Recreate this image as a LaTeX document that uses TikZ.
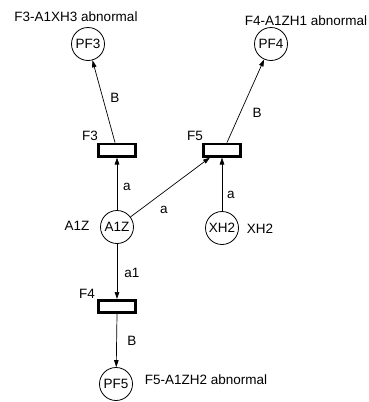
\documentclass[tikz,border=0pt]{standalone}
\usepackage{fontspec}
\setmainfont{Liberation Sans}
\usetikzlibrary{arrows.meta}

\begin{document}
\begin{tikzpicture}[
    x=1pt, y=-1pt,
    every node/.style={font=\fontsize{13.5}{15}\selectfont},
    place/.style={draw, circle, minimum size=33pt, inner sep=0pt, line width=0.8pt},
    trans/.style={draw, fill=white, line width=2.8pt, minimum width=37.2pt, minimum height=12.2pt, inner sep=0pt},
    lbl/.style={inner sep=0pt},
    arc/.style={-{Triangle[length=7pt,width=4.5pt]}, line width=0.7pt}
]
\useasboundingbox (0,0) rectangle (369,402);

\node[place] (PF3) at (88,44) {PF3};
\node[place] (PF4) at (271,44) {PF4};
\node[trans] (F3) at (117,150) {};
\node[trans] (F5) at (222,150) {};
\node[place] (A1Z) at (117,227) {A1Z};
\node[place] (XH2) at (222,228) {XH2};
\node[trans] (F4) at (117,306.5) {};
\node[place] (PF5) at (116,384) {PF5};

\node[lbl] (txtPF3) at (76,17) {F3-A1XH3 abnormal};
\node[lbl] (txtPF4) at (306,21) {F4-A1ZH1 abnormal};
\node[lbl] (txtPF5) at (206,380) {F5-A1ZH2 abnormal};
\node[lbl] (txtF3) at (90,136) {F3};
\node[lbl] (txtF5) at (195,136) {F5};
\node[lbl] (txtF4) at (87,294) {F4};
\node[lbl] (txtA1Z) at (77,226) {A1Z};
\node[lbl] (txtXH2) at (260,229) {XH2};

\node[lbl] (labB1) at (115,98) {B};
\node[lbl] (labB2) at (257,113) {B};
\node[lbl] (labB3) at (132,341) {B};
\node[lbl] (laba1) at (127,187) {a};
\node[lbl] (laba2) at (164,210) {a};
\node[lbl] (laba3) at (231,195) {a};
\node[lbl] (laba4) at (132,273) {a1};

\draw[arc] ([xshift=-2pt]F3.north) -- (PF3);
\draw[arc] ([xshift=5pt]F5.north) -- (PF4);
\draw[arc] (A1Z) -- (F3.south);
\draw[arc] (A1Z) -- ([xshift=-12pt]F5.south);
\draw[arc] (XH2) -- (F5.south);
\draw[arc] (A1Z) -- (F4.north);
\draw[arc] (F4.south) -- (PF5);
\end{tikzpicture}
\end{document}
